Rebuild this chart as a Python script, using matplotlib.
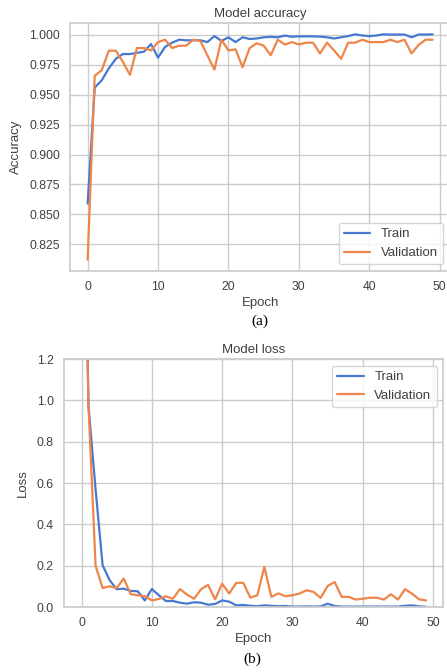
import numpy as np
import matplotlib
matplotlib.use("Agg")
import matplotlib.pyplot as plt
import seaborn as sns

# training history
epochs = list(range(50))

train_acc = [0.859, 0.956, 0.962, 0.972, 0.980, 0.984, 0.984, 0.985, 0.986, 0.9924,
             0.981, 0.990, 0.9935, 0.996, 0.9955, 0.9955, 0.9955, 0.994, 0.999, 0.995,
             0.998, 0.994, 0.998, 0.9966, 0.997, 0.998, 0.9984, 0.998, 0.9994, 0.9985,
             0.9988, 0.9988, 0.9988, 0.9986, 0.998, 0.997, 0.998, 0.999, 1.0005, 0.9995,
             0.999, 0.9995, 1.0005, 1.0003, 1.0003, 1.0003, 0.998, 1.0003, 1.0003, 1.0005]
val_acc = [0.812, 0.9657, 0.9705, 0.9868, 0.9868, 0.9775, 0.9666, 0.989, 0.989, 0.987,
           0.994, 0.996, 0.989, 0.991, 0.991, 0.996, 0.995, 0.983, 0.971, 0.996,
           0.987, 0.988, 0.973, 0.989, 0.993, 0.991, 0.983, 0.996, 0.992, 0.994,
           0.992, 0.9935, 0.9935, 0.9845, 0.9935, 0.987, 0.980, 0.9935, 0.9935, 0.996,
           0.994, 0.994, 0.994, 0.996, 0.994, 0.996, 0.9845, 0.9916, 0.996, 0.996]

train_loss = [2.7, 0.97, 0.57, 0.202, 0.13, 0.086, 0.089, 0.078, 0.076, 0.032,
              0.087, 0.057, 0.029, 0.029, 0.021, 0.016, 0.023, 0.021, 0.011, 0.015,
              0.032, 0.026, 0.008, 0.010, 0.006, 0.004, 0.008, 0.006, 0.004, 0.005,
              0.002, 0.002, 0.003, 0.002, 0.003, 0.016, 0.005, 0.002, 0.002, 0.002,
              0.002, 0.002, 0.002, 0.002, 0.002, 0.002, 0.006, 0.008, 0.003, 0.001]
val_loss = [2.6, 0.97, 0.20, 0.092, 0.100, 0.092, 0.138, 0.062, 0.057, 0.052,
            0.032, 0.039, 0.052, 0.040, 0.087, 0.060, 0.040, 0.086, 0.107, 0.037,
            0.113, 0.065, 0.117, 0.117, 0.045, 0.057, 0.194, 0.049, 0.066, 0.052,
            0.057, 0.065, 0.081, 0.073, 0.044, 0.102, 0.121, 0.049, 0.049, 0.036,
            0.040, 0.045, 0.045, 0.036, 0.062, 0.036, 0.086, 0.065, 0.037, 0.032]

legend_labels = ['Train', 'Validation']

sns.set_theme(style='whitegrid', palette='muted')
plt.rcParams['font.family'] = ['Liberation Sans', 'DejaVu Sans']
plt.rcParams['text.color'] = '.25'
plt.rcParams['axes.labelcolor'] = '.25'
plt.rcParams['xtick.color'] = '.25'
plt.rcParams['ytick.color'] = '.25'

fig = plt.figure(figsize=(4.47, 6.72), dpi=100)

# (a) accuracy
ax1 = fig.add_axes([0.1575, 0.5967, 0.849, 0.369])
ax1.plot(epochs, train_acc, lw=1.6, label=legend_labels[0])
ax1.plot(epochs, val_acc, lw=1.6, label=legend_labels[1])
ax1.set_title('Model accuracy', fontsize=9.5, pad=4)
ax1.set_ylabel('Accuracy', fontsize=9.5, labelpad=5.5)
ax1.set_xlabel('Epoch', fontsize=9.5, labelpad=2.5)
ax1.set_xticks([0, 10, 20, 30, 40, 50])
ax1.set_yticks([0.825, 0.850, 0.875, 0.900, 0.925, 0.950, 0.975, 1.000])
ax1.set_yticklabels([f'{v:.3f}' for v in ax1.get_yticks()])
ax1.tick_params(labelsize=8.8, length=0, pad=7.5)
ax1.legend(loc='lower right', fontsize=9.5)

# (b) loss
ax2 = fig.add_axes([0.1438, 0.0967, 0.848, 0.369])
ax2.plot(epochs, train_loss, lw=1.6, label=legend_labels[0])
ax2.plot(epochs, val_loss, lw=1.6, label=legend_labels[1])
ax2.set_ylim(0, 1.2)
ax2.set_title('Model loss', fontsize=9.5, pad=4)
ax2.set_ylabel('Loss', fontsize=9.5, labelpad=5.5)
ax2.set_xlabel('Epoch', fontsize=9.5, labelpad=2.5)
ax2.set_xticks([0, 10, 20, 30, 40, 50])
ax2.tick_params(labelsize=8.8, length=0, pad=7.5)
ax2.legend(loc='upper right', fontsize=9.5)

fig.text(0.582, 1 - 321.7 / 672, '(a)', ha='center', va='center',
         family='Liberation Serif', fontsize=11, color='black')
fig.text(0.565, 1 - 659 / 672, '(b)', ha='center', va='center',
         family='Liberation Serif', fontsize=11, color='black')

fig.savefig('out.png', dpi=100)
